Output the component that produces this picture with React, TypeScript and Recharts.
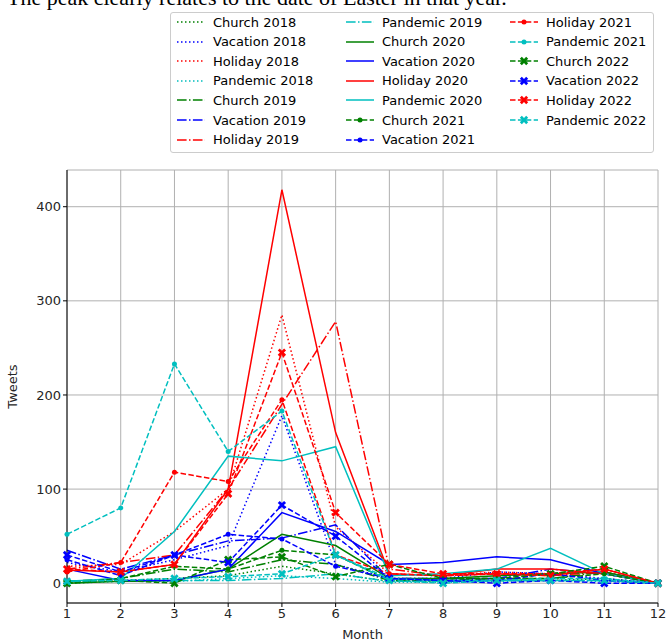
import React from "react";
import { CartesianGrid, Label, Line, LineChart, XAxis, YAxis } from "recharts";

// monthly tweet counts per topic and year
const months = [1, 2, 3, 4, 5, 6, 7, 8, 9, 10, 11, 12];

const church2018 = [2, 3, 5, 8, 18, 10, 2, 2, 3, 3, 5, 0];
const vacation2018 = [22, 12, 25, 40, 178, 20, 5, 5, 12, 10, 5, 0];
const holiday2018 = [18, 20, 55, 100, 285, 60, 10, 8, 12, 10, 15, 0];
const pandemic2018 = [0, 2, 2, 5, 8, 5, 1, 1, 2, 3, 2, 0];

const church2019 = [2, 5, 15, 12, 25, 20, 3, 3, 5, 5, 12, 0];
const vacation2019 = [35, 15, 30, 45, 48, 62, 5, 5, 5, 15, 10, 0];
const holiday2019 = [15, 22, 30, 100, 190, 278, 15, 8, 10, 8, 12, 0];
const pandemic2019 = [2, 2, 3, 3, 5, 10, 2, 2, 3, 3, 3, 0];

const church2020 = [0, 2, 3, 15, 52, 40, 5, 5, 8, 10, 12, 0];
const vacation2020 = [15, 3, 3, 15, 75, 55, 20, 22, 28, 25, 10, 0];
const holiday2020 = [14, 12, 20, 100, 418, 160, 10, 8, 15, 15, 10, 0];
const pandemic2020 = [2, 5, 55, 135, 130, 145, 8, 10, 15, 37, 10, 0];

const church2021 = [0, 5, 18, 15, 35, 30, 3, 5, 5, 5, 10, 0];
const vacation2021 = [25, 8, 30, 52, 47, 18, 5, 3, 3, 10, 3, 0];
const holiday2021 = [12, 22, 118, 108, 195, 30, 10, 8, 10, 10, 15, 0];
const pandemic2021 = [52, 80, 233, 140, 183, 30, 5, 3, 3, 5, 5, 0];

const church2022 = [0, 3, 0, 25, 28, 7, 20, 5, 5, 10, 18, 0];
const vacation2022 = [30, 12, 30, 22, 83, 50, 5, 3, 0, 3, 0, 0];
const holiday2022 = [15, 12, 20, 95, 245, 75, 20, 10, 10, 8, 15, 0];
const pandemic2022 = [2, 3, 5, 7, 10, 30, 3, 0, 3, 3, 3, 0];

const yTicks = [0, 100, 200, 300, 400];

const COLORS = { Church: "#008000", Vacation: "#0000ff", Holiday: "#ff0000", Pandemic: "#00bfbf" };

type Style = "dotted" | "dashdot" | "solid" | "dotmark" | "xmark";

const DASH: Record<Style, string | undefined> = {
  dotted: "1.5 2.5",
  dashdot: "9.6 2.4 1.5 2.4",
  solid: undefined,
  dotmark: "5.5 2.4",
  xmark: "5.5 2.4",
};

const series: { name: string; topic: keyof typeof COLORS; style: Style; values: number[] }[] = [
  { name: "Church 2018", topic: "Church", style: "dotted", values: church2018 },
  { name: "Vacation 2018", topic: "Vacation", style: "dotted", values: vacation2018 },
  { name: "Holiday 2018", topic: "Holiday", style: "dotted", values: holiday2018 },
  { name: "Pandemic 2018", topic: "Pandemic", style: "dotted", values: pandemic2018 },
  { name: "Church 2019", topic: "Church", style: "dashdot", values: church2019 },
  { name: "Vacation 2019", topic: "Vacation", style: "dashdot", values: vacation2019 },
  { name: "Holiday 2019", topic: "Holiday", style: "dashdot", values: holiday2019 },
  { name: "Pandemic 2019", topic: "Pandemic", style: "dashdot", values: pandemic2019 },
  { name: "Church 2020", topic: "Church", style: "solid", values: church2020 },
  { name: "Vacation 2020", topic: "Vacation", style: "solid", values: vacation2020 },
  { name: "Holiday 2020", topic: "Holiday", style: "solid", values: holiday2020 },
  { name: "Pandemic 2020", topic: "Pandemic", style: "solid", values: pandemic2020 },
  { name: "Church 2021", topic: "Church", style: "dotmark", values: church2021 },
  { name: "Vacation 2021", topic: "Vacation", style: "dotmark", values: vacation2021 },
  { name: "Holiday 2021", topic: "Holiday", style: "dotmark", values: holiday2021 },
  { name: "Pandemic 2021", topic: "Pandemic", style: "dotmark", values: pandemic2021 },
  { name: "Church 2022", topic: "Church", style: "xmark", values: church2022 },
  { name: "Vacation 2022", topic: "Vacation", style: "xmark", values: vacation2022 },
  { name: "Holiday 2022", topic: "Holiday", style: "xmark", values: holiday2022 },
  { name: "Pandemic 2022", topic: "Pandemic", style: "xmark", values: pandemic2022 },
];

const data = months.map((month, i) => {
  const row: Record<string, number> = { month };
  series.forEach((s) => (row[s.name] = s.values[i]));
  return row;
});

// filled "X" marker, a plus sign turned 45 degrees
const xPath = (cx: number, cy: number, s = 4.5, w = 1.4) => {
  const pts = [
    [-w, -s], [w, -s], [w, -w], [s, -w], [s, w], [w, w],
    [w, s], [-w, s], [-w, w], [-s, w], [-s, -w], [-w, -w],
  ];
  const c = Math.SQRT1_2;
  return (
    pts
      .map(([x, y], i) => `${i ? "L" : "M"}${(cx + (x - y) * c).toFixed(2)},${(cy + (x + y) * c).toFixed(2)}`)
      .join("") + "Z"
  );
};

const makeDot = (style: Style, color: string) => {
  if (style === "dotmark") return { r: 2.5, fill: color, stroke: color, strokeWidth: 0 };
  if (style === "xmark")
    return (p: any) => <path key={`x-${p.index}`} d={xPath(p.cx, p.cy)} fill={color} />;
  return false;
};

const FONT = "DejaVu Sans, sans-serif";
const tickStyle = { fill: "#262626", fontSize: 13, fontFamily: FONT };

const LegendSample = ({ style, color }: { style: Style; color: string }) => (
  <svg width={30} height={12} style={{ display: "block" }}>
    <line x1={1} y1={6} x2={29} y2={6} stroke={color} strokeWidth={1.5} strokeDasharray={DASH[style]} />
    {style === "dotmark" && <circle cx={15} cy={6} r={2.5} fill={color} />}
    {style === "xmark" && <path d={xPath(15, 6)} fill={color} />}
  </svg>
);

const colX = [175, 344, 508];
const rowY = (r: number) => 19 + r * 19.6;

export default function App() {
  return (
    <div style={{ position: "absolute", left: 0, top: 0, width: 667, height: 640, overflow: "hidden", background: "#fff" }}>
      <div
        style={{
          position: "absolute",
          left: 7,
          top: -14,
          fontFamily: "Liberation Serif, serif",
          fontSize: 22,
          lineHeight: "24px",
          whiteSpace: "nowrap",
          color: "#000",
        }}
      >
        The peak clearly relates to the date of Easter in that year.
      </div>

      <LineChart width={667} height={640} data={data} margin={{ top: 170, right: 9, bottom: 0, left: 0 }}>
        <CartesianGrid stroke="#b0b0b0" strokeWidth={1} />
        <XAxis
          dataKey="month"
          type="number"
          domain={[1, 12]}
          ticks={months}
          height={37}
          tickSize={4}
          tick={tickStyle}
          tickLine={{ stroke: "#000" }}
          axisLine={{ stroke: "#000" }}
          interval={0}
        >
          <Label value="Month" position="insideBottom" offset={1} style={{ fill: "#262626", fontSize: 13, fontFamily: FONT }} />
        </XAxis>
        <XAxis xAxisId="top" orientation="top" dataKey="month" type="number" domain={[1, 12]} height={0} tick={false} tickLine={false} axisLine={{ stroke: "#000" }} />
        <YAxis
          type="number"
          domain={[-21, 439]}
          ticks={yTicks}
          width={67}
          tickSize={4}
          tick={tickStyle}
          tickLine={{ stroke: "#000" }}
          axisLine={{ stroke: "#000" }}
          allowDataOverflow
        >
          <Label value="Tweets" angle={-90} position="insideLeft" offset={12} style={{ fill: "#262626", fontSize: 13, fontFamily: FONT, textAnchor: "middle" }} />
        </YAxis>
        <YAxis yAxisId="right" orientation="right" domain={[-21, 439]} width={0} tick={false} tickLine={false} axisLine={{ stroke: "#000" }} />
        {series.map((s) => {
          const color = COLORS[s.topic];
          return (
            <Line
              key={s.name}
              dataKey={s.name}
              stroke={color}
              strokeWidth={1.5}
              strokeDasharray={DASH[s.style]}
              dot={makeDot(s.style, color) as any}
              activeDot={false}
              type="linear"
              isAnimationActive={false}
            />
          );
        })}
      </LineChart>

      <div
        style={{
          position: "absolute",
          left: 170,
          top: 12,
          width: 482,
          height: 139,
          border: "1px solid #cccccc",
          borderRadius: 3,
          background: "rgba(255,255,255,0.8)",
          fontFamily: FONT,
          fontSize: 13,
          color: "#000",
        }}
      >
        {series.map((s, i) => {
          const col = Math.floor(i / 7);
          const row = i % 7;
          return (
            <div
              key={s.name}
              style={{
                position: "absolute",
                left: colX[col] - 170,
                top: rowY(row) - 12 - 6,
                height: 16,
                display: "flex",
                alignItems: "center",
                whiteSpace: "nowrap",
              }}
            >
              <LegendSample style={s.style} color={COLORS[s.topic]} />
              <span style={{ marginLeft: 7 }}>{s.name}</span>
            </div>
          );
        })}
      </div>
    </div>
  );
}
